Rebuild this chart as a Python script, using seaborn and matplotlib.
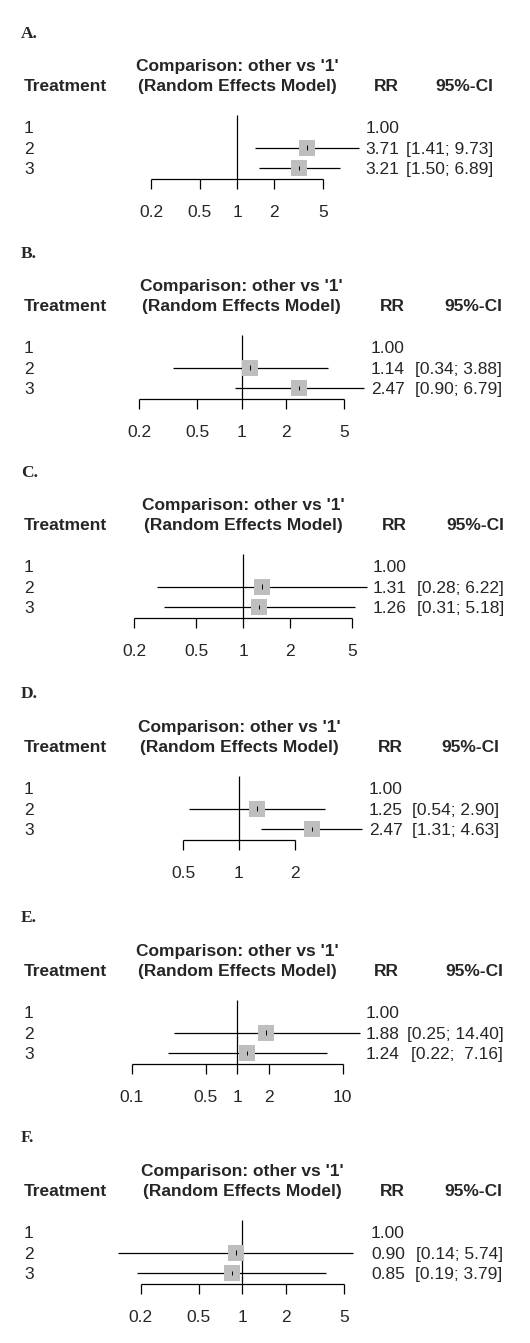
import numpy as np
import pandas as pd
import matplotlib
matplotlib.use("Agg")
import matplotlib.pyplot as plt
import matplotlib.transforms as mtransforms
import seaborn as sns

# ---------------------------
# data: RR and 95%-CI per panel, treatment 1 is the reference
# ---------------------------
panels = ["A.", "B.", "C.", "D.", "E.", "F."]
treatments = ["1", "2", "3"]

rr_a = [1.00, 3.71, 3.21]
lo_a = [np.nan, 1.41, 1.50]
hi_a = [np.nan, 9.73, 6.89]

rr_b = [1.00, 1.14, 2.47]
lo_b = [np.nan, 0.34, 0.90]
hi_b = [np.nan, 3.88, 6.79]

rr_c = [1.00, 1.31, 1.26]
lo_c = [np.nan, 0.28, 0.31]
hi_c = [np.nan, 6.22, 5.18]

rr_d = [1.00, 1.25, 2.47]
lo_d = [np.nan, 0.54, 1.31]
hi_d = [np.nan, 2.90, 4.63]

rr_e = [1.00, 1.88, 1.24]
lo_e = [np.nan, 0.25, 0.22]
hi_e = [np.nan, 14.40, 7.16]

rr_f = [1.00, 0.90, 0.85]
lo_f = [np.nan, 0.14, 0.19]
hi_f = [np.nan, 5.74, 3.79]

ticks_a = [0.2, 0.5, 1, 2, 5]
ticks_b = [0.2, 0.5, 1, 2, 5]
ticks_c = [0.2, 0.5, 1, 2, 5]
ticks_d = [0.5, 1, 2]
ticks_e = [0.1, 0.5, 1, 2, 10]
ticks_f = [0.2, 0.5, 1, 2, 5]

rr_all = [rr_a, rr_b, rr_c, rr_d, rr_e, rr_f]
lo_all = [lo_a, lo_b, lo_c, lo_d, lo_e, lo_f]
hi_all = [hi_a, hi_b, hi_c, hi_d, hi_e, hi_f]
ticks_all = [ticks_a, ticks_b, ticks_c, ticks_d, ticks_e, ticks_f]

# ---------------------------
# layout (pixels) of each panel
# ---------------------------
W, H = 530, 1343
row1_px = [127, 347, 566, 788, 1012, 1232]
null_px = [237, 241.7, 243.3, 239, 237.3, 242.3]
decade_px = [123, 147, 156, 185, 105.5, 145.4]
rr_right_px = [399, 405, 407, 403, 399, 405]
ci_right_px = [493, 502, 504, 499.3, 503.3, 502.7]
STEP = 20.6
FS = 12.5
BASE = 6.1
GREY = "#BEBEBE"

sns.set_style("white")
plt.rcParams["font.family"] = ["Liberation Sans", "DejaVu Sans"]

fig = plt.figure(figsize=(W / 100, H / 100), dpi=100)


def fmt_ci(lo, hi):
    lw = max(len(f"{v:.2f}") for v in lo if not np.isnan(v))
    hw = max(len(f"{v:.2f}") for v in hi if not np.isnan(v))
    out = []
    for a, b in zip(lo, hi):
        if np.isnan(a):
            out.append("")
        else:
            out.append(f"[{a:>{lw}.2f}; {b:>{hw}.2f}]")
    return out


for i, lab in enumerate(panels):
    df = pd.DataFrame({"trt": treatments, "rr": rr_all[i],
                       "lo": lo_all[i], "hi": hi_all[i]})
    df["row"] = np.arange(1, len(df) + 1)
    df["ci"] = fmt_ci(df["lo"], df["hi"])
    est = df[df["trt"] != "1"]
    ticks = ticks_all[i]

    ax = fig.add_axes([0, 0, 1, 1])
    ax.set_xscale("log")
    ax.patch.set_alpha(0)

    y_px = lambda off: 1 + off / STEP
    ax_y = df["row"].max() + 11 / STEP

    # CI lines, squares, centre ticks
    ax.hlines(est["row"], est["lo"], est["hi"], color="black", lw=0.9, zorder=2)
    sns.scatterplot(data=est, x="rr", y="row", marker="s", s=11.2 ** 2,
                    color=GREY, linewidth=0, zorder=3, ax=ax, legend=False)
    ax.vlines(est["rr"], est["row"] - 2.2 / STEP, est["row"] + 2.2 / STEP,
              color="black", lw=0.7, zorder=4)

    # line of no effect and x axis
    ax.vlines(1, y_px(-12), ax_y, color="black", lw=0.9)
    ax.hlines(ax_y, ticks[0], ticks[-1], color="black", lw=0.9)
    ax.vlines(ticks, ax_y, ax_y + 9.5 / STEP, color="black", lw=0.9)
    for t in ticks:
        ax.text(t, y_px(83.5 + BASE), f"{t:g}", ha="center", va="baseline", fontsize=FS)

    tr = mtransforms.blended_transform_factory(ax.transAxes, ax.transData)

    # panel letter and headers
    ax.text(21 / W, y_px(-95 + 5.5), lab, transform=tr, family="Liberation Serif",
            weight="bold", fontsize=12.5, va="baseline")
    ax.text(1, y_px(-62 + BASE), "Comparison: other vs '1'", ha="center",
            va="baseline", weight="bold", fontsize=FS)
    ax.text(1, y_px(-42 + BASE), "(Random Effects Model)", ha="center",
            va="baseline", weight="bold", fontsize=FS)
    ax.text(24 / W, y_px(-42 + BASE), "Treatment", transform=tr, weight="bold",
            fontsize=FS, va="baseline")
    ax.text(rr_right_px[i] / W, y_px(-42 + BASE), "RR", transform=tr, ha="right",
            weight="bold", fontsize=FS, va="baseline")
    ax.text(ci_right_px[i] / W, y_px(-42 + BASE), "95%-CI", transform=tr, ha="right",
            weight="bold", fontsize=FS, va="baseline")

    # row texts
    for _, r in df.iterrows():
        yb = r["row"] + BASE / STEP
        ax.text(24 / W, yb, r["trt"], transform=tr, fontsize=FS, va="baseline")
        ax.text(rr_right_px[i] / W, yb, f"{r['rr']:.2f}", transform=tr,
                ha="right", fontsize=FS, va="baseline")
        ax.text(ci_right_px[i] / W, yb, r["ci"], transform=tr,
                ha="right", fontsize=FS, va="baseline")

    x0, k, y1 = null_px[i], decade_px[i], row1_px[i]
    ax.set_xlim(10 ** (-x0 / k), 10 ** ((W - x0) / k))
    ax.set_ylim(1 + (H - y1) / STEP, 1 - y1 / STEP)
    ax.set_axis_off()

fig.savefig("out.png", dpi=100)
